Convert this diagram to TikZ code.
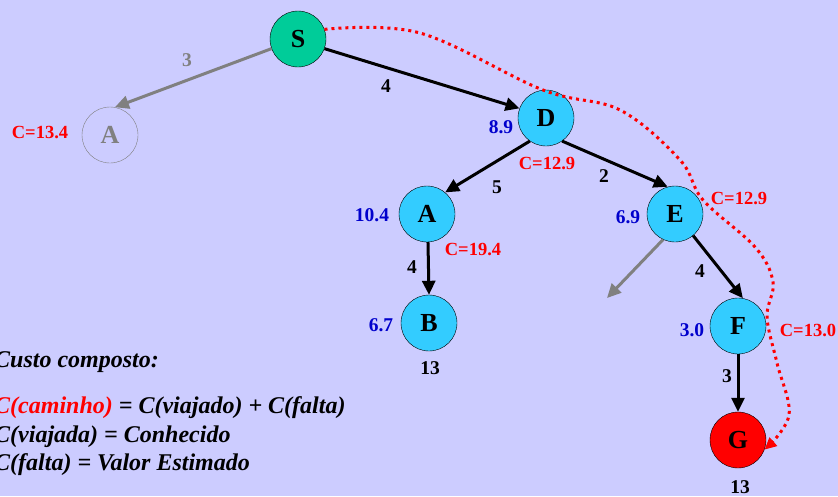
\documentclass[tikz,border=0pt]{standalone}
\usepackage{fontspec}
\setmainfont{Liberation Serif}
\usepackage{xcolor}
\usepackage{tikz}
\usetikzlibrary{arrows.meta, positioning, calc}
\definecolor{bgcol}{RGB}{204,204,255}
\definecolor{seacol}{RGB}{0,204,153}
\definecolor{skycol}{RGB}{51,204,255}
\definecolor{costred}{RGB}{255,0,0}
\definecolor{estblue}{RGB}{0,0,204}
\tikzset{
	state/.style={circle, draw=black, fill=skycol, thin, minimum size=56pt, inner sep=0pt, font=\fontsize{26}{30}\selectfont\bfseries},
	state_start/.style={state, fill=seacol},
	state_goal/.style={state, fill=costred},
	state_dead/.style={state, draw=gray, fill=none, text=gray},
	est_lbl/.style={font=\fontsize{19.5}{22}\selectfont\bfseries, text=estblue, inner sep=1pt},
	cost_lbl/.style={font=\fontsize{18.5}{22}\selectfont\bfseries, text=costred, inner sep=1pt},
	wt_lbl/.style={font=\fontsize{19.5}{22}\selectfont\bfseries, inner sep=1pt},
	legend_txt/.style={anchor=west, font=\fontsize{24}{28}\selectfont\bfseries\itshape, inner sep=0pt},
	tree_edge/.style={-{Triangle[length=14pt, width=13pt]}, draw=black, line width=3pt},
	pruned_edge/.style={-{Triangle[length=14pt, width=13pt]}, draw=gray, line width=3pt},
	path_trail/.style={-{Triangle[length=12pt, width=11pt]}, draw=costred, line width=3pt, dash pattern=on 3pt off 4pt}
}
\begin{document}
\begin{tikzpicture}[x=1pt, y=-1pt]
	\fill[bgcol] (0,0) rectangle (838,496);
	\useasboundingbox (0,0) rectangle (838,496);
	% nodes of the search tree
	\node[state_start] (S) at (298,39) {S};
	\node[state_dead] (Aold) at (110,135) {A};
	\node[state] (D) at (546,118) {D};
	\node[state] (A) at (427,214) {A};
	\node[state] (E) at (675,214) {E};
	\node[state] (B) at (429,323) {B};
	\node[state] (F) at (738,326) {F};
	\node[state_goal] (G) at (738,440) {G};
	\coordinate (Eout) at (607,298);
	% edges
	\draw[pruned_edge] (S.200) -- (Aold.80);
	\draw[tree_edge] (S.-20) -- (D.160);
	\draw[tree_edge] (D.-125) -- (A.50);
	\draw[tree_edge] (D.-55) -- (E.105);
	\draw[tree_edge] (A.-88) -- (B.north);
	\draw[tree_edge] (E.-50) -- (F.80);
	\draw[tree_edge] (F.south) -- (G.north);
	\draw[pruned_edge] (E.-115) -- (Eout);
	% chosen path
	\draw[path_trail] plot[smooth, tension=0.6] coordinates {(S.20) (420,33) (543,90) (620,110) (680,160) (703,200) (755,247) (773,282) (767,317) (777,363) (789,415) (G.-20)};
	% edge weights
	\node[wt_lbl, text=gray] (w1) at (187,60) {3};
	\node[wt_lbl] (w2) at (386,86) {4};
	\node[wt_lbl] (w3) at (497,187) {5};
	\node[wt_lbl] (w4) at (604,176) {2};
	\node[wt_lbl] (w5) at (412,267) {4};
	\node[wt_lbl] (w6) at (700,271) {4};
	\node[wt_lbl] (w7) at (727,376) {3};
	% estimates and costs
	\node[cost_lbl] (cA0) at (40,133) {C=13.4};
	\node[est_lbl] (hD) at (501,127) {8.9};
	\node[cost_lbl] (cD) at (547,164) {C=12.9};
	\node[cost_lbl] (cE) at (739,199) {C=12.9};
	\node[est_lbl] (hA) at (372,215) {10.4};
	\node[cost_lbl] (cA) at (473,250) {C=19.4};
	\node[est_lbl] (hB) at (381,325) {6.7};
	\node[wt_lbl] (tB) at (430,368) {13};
	\node[est_lbl] (hE) at (628,217) {6.9};
	\node[est_lbl] (hF) at (692,330) {3.0};
	\node[cost_lbl] (cF) at (808,330) {C=13.0};
	\node[wt_lbl] (tG) at (740,487) {13};
	% legend
	\node[legend_txt] (leg0) at (-6,362) {Custo composto:};
	\node[legend_txt] (leg1) at (-6,408) {\textcolor{costred}{C(caminho)} = C(viajado) + C(falta)};
	\node[legend_txt] (leg2) at (-6,437) {C(viajada) = Conhecido};
	\node[legend_txt] (leg3) at (-6,465) {C(falta) = Valor Estimado};
\end{tikzpicture}
\end{document}
